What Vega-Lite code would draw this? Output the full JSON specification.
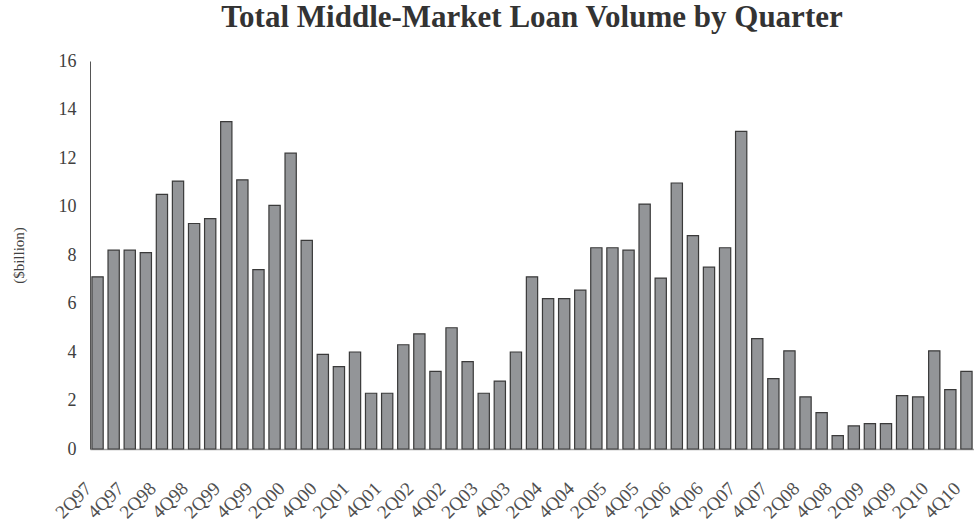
{
  "$schema": "https://vega.github.io/schema/vega-lite/v6.json",
  "width": 884,
  "height": 388,
  "autosize": {"type": "none"},
  "padding": {"left": 90, "top": 61, "right": 0, "bottom": 75},
  "background": "white",
  "title": {
    "text": "Total Middle-Market Loan Volume by Quarter",
    "font": "Liberation Serif",
    "fontSize": 31,
    "fontWeight": "bold",
    "color": "#333333",
    "anchor": "middle",
    "offset": 18
  },
  "data": {
    "values": [
      {"q": "2Q97", "v": 7.1}, {"q": "3Q97", "v": 8.2}, {"q": "4Q97", "v": 8.2}, {"q": "1Q98", "v": 8.1},
      {"q": "2Q98", "v": 10.5}, {"q": "3Q98", "v": 11.05}, {"q": "4Q98", "v": 9.3}, {"q": "1Q99", "v": 9.5},
      {"q": "2Q99", "v": 13.5}, {"q": "3Q99", "v": 11.1}, {"q": "4Q99", "v": 7.4}, {"q": "1Q00", "v": 10.05},
      {"q": "2Q00", "v": 12.2}, {"q": "3Q00", "v": 8.6}, {"q": "4Q00", "v": 3.9}, {"q": "1Q01", "v": 3.4},
      {"q": "2Q01", "v": 4.0}, {"q": "3Q01", "v": 2.3}, {"q": "4Q01", "v": 2.3}, {"q": "1Q02", "v": 4.3},
      {"q": "2Q02", "v": 4.75}, {"q": "3Q02", "v": 3.2}, {"q": "4Q02", "v": 5.0}, {"q": "1Q03", "v": 3.6},
      {"q": "2Q03", "v": 2.3}, {"q": "3Q03", "v": 2.8}, {"q": "4Q03", "v": 4.0}, {"q": "1Q04", "v": 7.1},
      {"q": "2Q04", "v": 6.2}, {"q": "3Q04", "v": 6.2}, {"q": "4Q04", "v": 6.55}, {"q": "1Q05", "v": 8.3},
      {"q": "2Q05", "v": 8.3}, {"q": "3Q05", "v": 8.2}, {"q": "4Q05", "v": 10.1}, {"q": "1Q06", "v": 7.05},
      {"q": "2Q06", "v": 10.97}, {"q": "3Q06", "v": 8.8}, {"q": "4Q06", "v": 7.5}, {"q": "1Q07", "v": 8.3},
      {"q": "2Q07", "v": 13.1}, {"q": "3Q07", "v": 4.55}, {"q": "4Q07", "v": 2.9}, {"q": "1Q08", "v": 4.05},
      {"q": "2Q08", "v": 2.15}, {"q": "3Q08", "v": 1.5}, {"q": "4Q08", "v": 0.55}, {"q": "1Q09", "v": 0.95},
      {"q": "2Q09", "v": 1.05}, {"q": "3Q09", "v": 1.05}, {"q": "4Q09", "v": 2.2}, {"q": "1Q10", "v": 2.15},
      {"q": "2Q10", "v": 4.05}, {"q": "3Q10", "v": 2.45}, {"q": "4Q10", "v": 3.2}
    ]
  },
  "mark": {"type": "bar", "fill": "#939598", "stroke": "#3a3a3a", "strokeWidth": 1.2},
  "encoding": {
    "x": {
      "field": "q",
      "type": "ordinal",
      "sort": null,
      "scale": {"paddingInner": 0.3, "paddingOuter": 0.12},
      "axis": {
        "title": null,
        "values": ["2Q97","4Q97","2Q98","4Q98","2Q99","4Q99","2Q00","4Q00","2Q01","4Q01","2Q02","4Q02","2Q03","4Q03","2Q04","4Q04","2Q05","4Q05","2Q06","4Q06","2Q07","4Q07","2Q08","4Q08","2Q09","4Q09","2Q10","4Q10"],
        "labelAngle": -45,
        "labelAlign": "right",
        "labelBaseline": "middle",
        "labelFont": "Liberation Serif",
        "labelFontSize": 19,
        "labelColor": "#505050",
        "labelPadding": 36,
        "labelOffset": -9,
        "labelOverlap": false,
        "ticks": false,
        "domainColor": "#a0a0a0",
        "domainWidth": 1.5,
        "grid": false
      }
    },
    "y": {
      "field": "v",
      "type": "quantitative",
      "scale": {"domain": [0, 16], "nice": false},
      "axis": {
        "title": "($billion)",
        "titleFont": "Liberation Serif",
        "titleFontSize": 15,
        "titleFontWeight": "normal",
        "titleColor": "#404040",
        "titlePadding": 32,
        "values": [0, 2, 4, 6, 8, 10, 12, 14, 16],
        "labelFont": "Liberation Serif",
        "labelFontSize": 18,
        "labelColor": "#404040",
        "labelPadding": 14,
        "ticks": false,
        "grid": false,
        "domainColor": "#555555",
        "domainWidth": 1
      }
    }
  },
  "config": {"view": {"stroke": null}}
}
